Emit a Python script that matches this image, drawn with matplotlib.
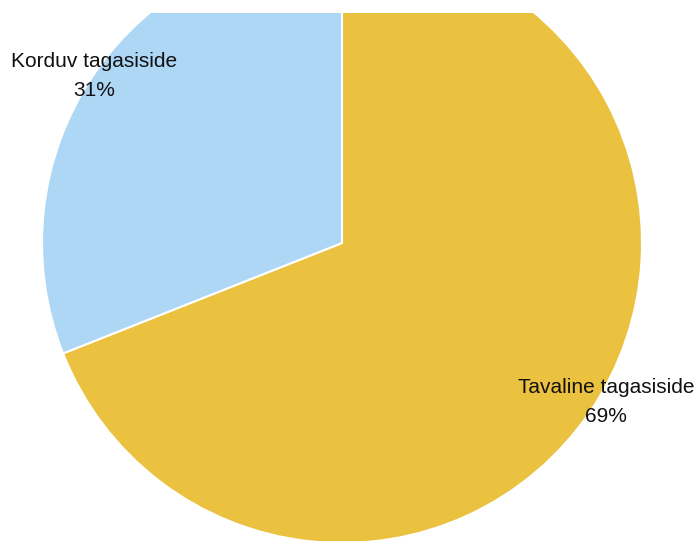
import matplotlib
matplotlib.use("Agg")
import matplotlib.pyplot as plt

categories = ["Tavaline tagasiside", "Korduv tagasiside"]
values = [69, 31]
colors = ["#EBC140", "#AED6F5"]

plt.rcParams['font.family'] = ['Liberation Sans', 'DejaVu Sans']

W, H = 699, 541
fig = plt.figure(figsize=(W / 100, H / 100), dpi=100)
top_px = 13
ax = fig.add_axes([0, 0, 1, (H - top_px) / H])
ax.set_axis_off()

wedges, _ = ax.pie(values, colors=colors, startangle=90, counterclock=False,
                   radius=1.0, wedgeprops=dict(edgecolor="white", linewidth=1.5))
for w in wedges:
    w.set_clip_on(True)
    w.set_clip_path(ax.patch)

cx, cy, r = 342, 243, 300
ax.set_xlim((0 - cx) / r, (W - cx) / r)
ax.set_ylim(-(H - cy) / r, (cy - top_px) / r)
ax.set_aspect('equal')

label_pos = {"Korduv tagasiside": ((94 - cx) / r, (cy - 76) / r),
             "Tavaline tagasiside": ((606 - cx) / r, (cy - 402) / r)}
for cat, v in zip(categories, values):
    x, y = label_pos[cat]
    ax.text(x, y, f"{cat}\n{v}%", ha="center", va="center", fontsize=15,
            linespacing=1.7, color="#111111")

fig.savefig("out.png", dpi=100)
